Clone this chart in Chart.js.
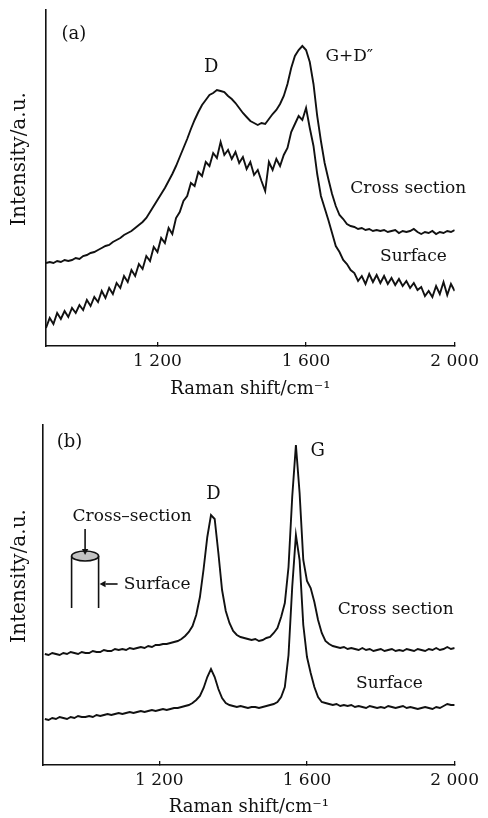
<!DOCTYPE html>
<html lang="en">
<head>
<meta charset="UTF-8">
<title>Raman spectra</title>
<script src="https://cdn.jsdelivr.net/npm/chart.js"></script>
<style>
    body { margin: 0; background: #fff; }
    .panel { position: absolute; left: 0; width: 488px; }
    #boxA { top: 0; height: 400px; }
    #boxB { top: 400px; height: 418px; }
</style>
</head>
<body>
<div class="panel" id="boxA"><canvas id="chartA" width="488" height="400"></canvas></div>
<div class="panel" id="boxB"><canvas id="chartB" width="488" height="418"></canvas></div>
<script>
// (a) Raman shift and intensity (a.u.)
const shiftA = [
    900, 910, 920, 930, 940, 950, 960, 970, 980, 990,
    1000, 1010, 1020, 1030, 1040, 1050, 1060, 1070, 1080, 1090,
    1100, 1110, 1120, 1130, 1140, 1150, 1160, 1170, 1180, 1190,
    1200, 1210, 1220, 1230, 1240, 1250, 1260, 1270, 1280, 1290,
    1300, 1310, 1320, 1330, 1340, 1350, 1360, 1370, 1380, 1390,
    1400, 1410, 1420, 1430, 1440, 1450, 1460, 1470, 1480, 1490,
    1500, 1510, 1520, 1530, 1540, 1550, 1560, 1570, 1580, 1590,
    1600, 1610, 1620, 1630, 1640, 1650, 1660, 1670, 1680, 1690,
    1700, 1710, 1720, 1730, 1740, 1750, 1760, 1770, 1780, 1790,
    1800, 1810, 1820, 1830, 1840, 1850, 1860, 1870, 1880, 1890,
    1900, 1910, 1920, 1930, 1940, 1950, 1960, 1970, 1980, 1990, 2000
];
const crossA = [
    83, 84, 83, 85, 84, 86, 85, 86, 88, 87,
    90, 91, 93, 94, 96, 98, 100, 101, 104, 106,
    108, 111, 113, 115, 118, 121, 124, 128, 134, 140,
    146, 152, 158, 165, 172, 180, 189, 198, 207, 217,
    226, 234, 241, 246, 251, 253, 256, 255, 254, 250,
    247, 243, 238, 233, 229, 225, 223, 221, 223, 222,
    227, 232, 236, 242, 250, 262, 278, 290, 296, 300,
    296, 284, 262, 230, 205, 183, 167, 152, 140, 131,
    127, 122, 120, 119, 117, 118, 116, 117, 115, 116,
    115, 116, 114, 115, 116, 113, 115, 114, 115, 117,
    114, 112, 114, 113, 115, 112, 114, 113, 115, 114, 116
];
const surfA = [
    18, 28, 22, 33, 27, 35, 29, 38, 33, 41,
    36, 46, 40, 49, 44, 55, 48, 58, 52, 63,
    58, 70, 64, 76, 70, 82, 77, 90, 85, 99,
    94, 108, 103, 118, 112, 128, 134, 145, 150, 163,
    160, 174, 170, 184, 180, 193, 188, 204, 191, 196,
    187, 194, 183, 189, 177, 184, 171, 176, 165, 155,
    184, 176, 187, 180, 191, 198, 214, 222, 230, 226,
    238, 218, 200, 172, 150, 138, 126, 113, 100, 94,
    86, 82, 76, 73, 65, 70, 62, 72, 64, 71,
    63, 70, 62, 68, 61, 67, 60, 65, 58, 63,
    56, 59, 50, 55, 49, 60, 52, 64, 51, 62, 55
];

// (b)
const shiftB = [
    890, 900, 910, 920, 930, 940, 950, 960, 970, 980, 990,
    1000, 1010, 1020, 1030, 1040, 1050, 1060, 1070, 1080, 1090,
    1100, 1110, 1120, 1130, 1140, 1150, 1160, 1170, 1180, 1190,
    1200, 1210, 1220, 1230, 1240, 1250, 1260, 1270, 1280, 1290,
    1300, 1310, 1320, 1330, 1340, 1350, 1360, 1370, 1380, 1390,
    1400, 1410, 1420, 1430, 1440, 1450, 1460, 1470, 1480, 1490,
    1500, 1510, 1520, 1530, 1540, 1550, 1560, 1570, 1580, 1590,
    1600, 1610, 1620, 1630, 1640, 1650, 1660, 1670, 1680, 1690,
    1700, 1710, 1720, 1730, 1740, 1750, 1760, 1770, 1780, 1790,
    1800, 1810, 1820, 1830, 1840, 1850, 1860, 1870, 1880, 1890,
    1900, 1910, 1920, 1930, 1940, 1950, 1960, 1970, 1980, 1990, 2000
];
const crossB = [
    111, 110, 112, 111, 110, 112, 111, 113, 112, 111, 113,
    112, 112, 114, 113, 113, 115, 114, 114, 116, 115,
    116, 115, 117, 116, 117, 118, 117, 119, 118, 120,
    120, 121, 121, 122, 123, 124, 126, 129, 133, 139,
    150, 168, 196, 228, 250, 246, 212, 175, 154, 142,
    134, 130, 128, 127, 126, 125, 126, 124, 125, 127,
    128, 132, 137, 148, 162, 198, 268, 320, 272, 205,
    184, 177, 163, 145, 132, 124, 121, 119, 118, 117,
    118, 116, 117, 116, 115, 117, 115, 116, 114, 115,
    116, 114, 115, 116, 114, 115, 114, 116, 115, 114,
    116, 115, 114, 116, 115, 117, 115, 116, 118, 116, 117
];
const surfB = [
    46, 45, 47, 46, 48, 47, 46, 48, 47, 49, 48,
    48, 49, 48, 50, 49, 50, 51, 50, 51, 52,
    51, 52, 53, 52, 53, 54, 53, 54, 55, 54,
    55, 56, 55, 56, 57, 57, 58, 59, 60, 62,
    65, 69, 77, 88, 96, 88, 76, 67, 62, 60,
    59, 58, 59, 58, 57, 58, 58, 57, 58, 59,
    60, 61, 63, 68, 78, 110, 178, 230, 205, 140,
    108, 92, 78, 68, 63, 62, 61, 60, 61, 59,
    60, 59, 60, 58, 59, 58, 57, 59, 58, 57,
    58, 57, 59, 58, 57, 58, 59, 57, 58, 57,
    56, 57, 58, 57, 56, 58, 57, 59, 61, 60, 60
];

const xTicks = [1200, 1600, 2000];

const FONT = '"DejaVu Serif", serif';
const INK = '#111';

function pairs(xs, ys) {
    return xs.map((x, i) => ({ x: x, y: ys[i] }));
}

// 1200 -> "1 200"
function fmtTick(v) {
    return String(v).replace(/\B(?=(\d{3})+(?!\d))/g, ' ');
}

function arrow(ctx, x1, y1, x2, y2) {
    const a = Math.atan2(y2 - y1, x2 - x1), h = 6, w = 3.2;
    ctx.beginPath();
    ctx.moveTo(x1, y1);
    ctx.lineTo(x2 - h * Math.cos(a), y2 - h * Math.sin(a));
    ctx.stroke();
    ctx.beginPath();
    ctx.moveTo(x2, y2);
    ctx.lineTo(x2 - h * Math.cos(a) + w * Math.sin(a), y2 - h * Math.sin(a) - w * Math.cos(a));
    ctx.lineTo(x2 - h * Math.cos(a) - w * Math.sin(a), y2 - h * Math.sin(a) + w * Math.cos(a));
    ctx.closePath();
    ctx.fill();
}

// sample sketch in panel (b)
function drawCylinder(ctx, scales) {
    const cx = scales.x.getPixelForValue(999);
    const top = scales.y.getPixelForValue(209);
    const bot = scales.y.getPixelForValue(157);
    const rx = 13.5, ry = 5;
    ctx.strokeStyle = INK;
    ctx.fillStyle = INK;
    ctx.lineWidth = 1.6;
    ctx.beginPath();
    ctx.moveTo(cx - rx, top); ctx.lineTo(cx - rx, bot);
    ctx.moveTo(cx + rx, top); ctx.lineTo(cx + rx, bot);
    ctx.stroke();
    ctx.beginPath();
    ctx.ellipse(cx, top, rx, ry, 0, 0, 2 * Math.PI);
    ctx.fillStyle = '#c2c2c2';
    ctx.fill();
    ctx.stroke();
    ctx.fillStyle = INK;
    arrow(ctx, cx, scales.y.getPixelForValue(236), cx, top - 1);
    const ya = scales.y.getPixelForValue(181);
    arrow(ctx, scales.x.getPixelForValue(1087), ya, cx + rx + 1, ya);
}

// text labels, axis y title and sketch
const notes = {
    id: 'notes',
    afterDraw(chart, args, opts) {
        const { ctx, chartArea, scales } = chart;
        ctx.save();
        ctx.fillStyle = INK;
        ctx.textBaseline = 'middle';

        ctx.save();
        ctx.translate(20, (chartArea.top + chartArea.bottom) / 2 - 19);
        ctx.rotate(-Math.PI / 2);
        ctx.textAlign = 'center';
        ctx.font = '20px ' + FONT;
        ctx.fillText('Intensity/a.u.', 0, 0);
        ctx.restore();

        opts.labels.forEach(n => {
            ctx.font = n.size + 'px ' + FONT;
            ctx.textAlign = n.align;
            ctx.fillText(n.text, scales.x.getPixelForValue(n.x), scales.y.getPixelForValue(n.y));
        });
        if (opts.sketch) opts.sketch(ctx, scales);
        ctx.restore();
    }
};

function makeChart(id, xs, series, cfg) {
    return new Chart(document.getElementById(id), {
        type: 'line',
        data: {
            datasets: series.map(s => ({
                data: pairs(xs, s),
                borderColor: INK,
                borderWidth: 1.9,
                pointRadius: 0,
                tension: 0,
                fill: false
            }))
        },
        options: {
            responsive: false,
            animation: false,
            events: [],
            layout: { padding: cfg.pad },
            plugins: {
                legend: { display: false },
                tooltip: { enabled: false },
                notes: { labels: cfg.labels, sketch: cfg.sketch }
            },
            scales: {
                x: {
                    type: 'linear',
                    min: cfg.xMin,
                    max: 2000,
                    afterBuildTicks: s => { s.ticks = xTicks.map(v => ({ value: v })); },
                    afterFit: s => { s.height = cfg.xHeight; },
                    ticks: {
                        autoSkip: false,
                        maxRotation: 0,
                        padding: 9,
                        color: INK,
                        font: { family: FONT, size: 17 },
                        callback: v => fmtTick(v)
                    },
                    grid: { drawOnChartArea: false, drawTicks: true, tickLength: -4, color: INK, lineWidth: 1.3 },
                    border: { display: true, color: INK, width: 1.6 },
                    title: {
                        display: true,
                        text: 'Raman shift/cm\u207B\u00B9',
                        color: INK,
                        padding: 0,
                        font: { family: FONT, size: 18 }
                    }
                },
                y: {
                    min: 0,
                    max: cfg.yMax,
                    afterFit: s => { s.width = cfg.yWidth; },
                    ticks: { display: false },
                    grid: { display: false, drawTicks: false },
                    border: { display: true, color: INK, width: 1.6 }
                }
            }
        },
        plugins: [notes]
    });
}

makeChart('chartA', shiftA, [crossA, surfA], {
    pad: { top: 10, right: 29, bottom: 0, left: 0 },
    xMin: 900, yMax: 336, yWidth: 46, xHeight: 54,
    labels: [
        { text: '(a)', x: 975, y: 312, align: 'center', size: 18 },
        { text: 'D', x: 1345, y: 279, align: 'center', size: 18 },
        { text: 'G+D\u2033', x: 1652, y: 289, align: 'left', size: 17 },
        { text: 'Cross section', x: 1719, y: 157, align: 'left', size: 17 },
        { text: 'Surface', x: 1799, y: 89, align: 'left', size: 17 }
    ]
});

makeChart('chartB', shiftB, [crossB, surfB], {
    pad: { top: 25, right: 30, bottom: 0, left: 0 },
    xMin: 885, yMax: 340, yWidth: 43, xHeight: 53,
    labels: [
        { text: '(b)', x: 957, y: 323, align: 'center', size: 18 },
        { text: 'G', x: 1629, y: 314, align: 'center', size: 18 },
        { text: 'D', x: 1347, y: 271, align: 'center', size: 18 },
        { text: 'Cross\u2013section', x: 965, y: 248, align: 'left', size: 17 },
        { text: 'Surface', x: 1104, y: 180, align: 'left', size: 17 },
        { text: 'Cross section', x: 1683, y: 155, align: 'left', size: 17 },
        { text: 'Surface', x: 1733, y: 81, align: 'left', size: 17 }
    ],
    sketch: drawCylinder
});
</script>
</body>
</html>
